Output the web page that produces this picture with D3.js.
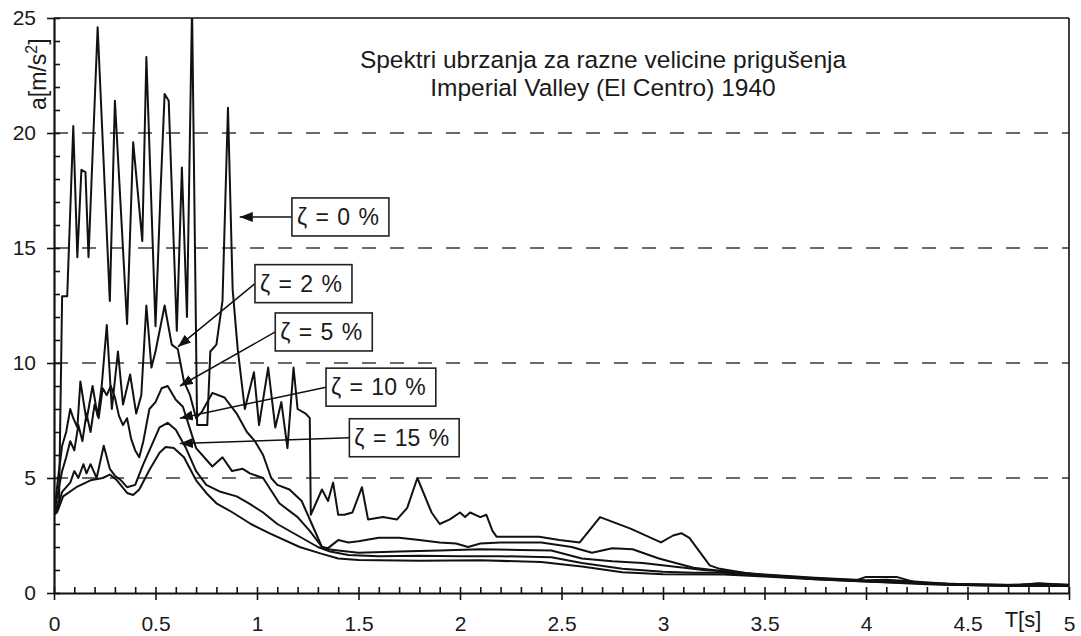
<!DOCTYPE html>
<html>
<head>
<meta charset="utf-8">
<script src="https://cdn.jsdelivr.net/npm/d3@7"></script>
<style>
body { margin: 0; background: #fff; }
text { font-family: "Liberation Sans", Arial, sans-serif; fill: #1a1a1a; }
</style>
</head>
<body>
<div id="chart"></div>
<script>
// spectra, [T in s, a in m/s2]
var zeta0 = [[0,3.4],[0.025,4.0],[0.04,12.9],[0.065,12.9],[0.095,20.3],[0.115,14.6],[0.135,18.4],[0.155,18.3],
  [0.17,14.6],[0.215,24.6],[0.275,12.7],[0.30,21.4],[0.36,11.7],[0.39,19.6],[0.435,15.3],[0.455,23.3],
  [0.50,11.6],[0.525,17.5],[0.545,21.7],[0.565,21.4],[0.605,11.4],[0.63,18.5],[0.655,12.0],[0.68,25.5],
  [0.705,7.3],[0.755,7.3],[0.77,10.5],[0.80,10.8],[0.83,12.7],[0.857,21.1],[0.88,13.2],[0.905,10.6],
  [0.94,8.0],[0.985,9.6],[1.01,7.3],[1.055,9.8],[1.09,7.2],[1.12,8.3],[1.15,6.3],[1.18,9.8],[1.20,8.0],
  [1.24,7.8],[1.26,7.6],[1.265,3.4],[1.32,4.5],[1.35,4.0],[1.375,4.8],[1.40,3.4],[1.43,3.4],[1.47,3.5],
  [1.517,4.6],[1.547,3.2],[1.62,3.3],[1.69,3.2],[1.74,3.7],[1.79,5.0],[1.86,3.5],[1.90,3.0],[1.95,3.2],
  [2.00,3.5],[2.025,3.3],[2.05,3.5],[2.10,3.3],[2.13,3.4],[2.16,2.7],[2.18,2.45],[2.39,2.45],[2.49,2.3],
  [2.59,2.2],[2.69,3.3],[2.84,2.8],[2.99,2.2],[3.05,2.5],[3.09,2.6],[3.13,2.4],[3.23,1.2],[3.28,1.05],
  [3.45,0.8],[3.70,0.65],[3.95,0.55],[4.0,0.7],[4.15,0.7],[4.25,0.45],[4.5,0.38],[4.75,0.35],[4.85,0.42],[5.0,0.35]];

var zeta2 = [[0,3.4],[0.02,5.0],[0.04,6.4],[0.06,7.0],[0.08,8.0],[0.095,7.6],[0.115,7.2],[0.13,9.2],
  [0.16,7.5],[0.19,9.0],[0.215,7.7],[0.235,9.0],[0.26,11.65],[0.285,8.0],[0.315,10.5],[0.34,8.2],
  [0.375,9.5],[0.405,7.8],[0.43,8.6],[0.455,12.5],[0.48,9.8],[0.50,10.5],[0.545,12.5],[0.58,10.8],
  [0.61,10.6],[0.64,9.2],[0.67,8.6],[0.70,7.6],[0.73,7.9],[0.78,8.7],[0.84,8.5],[0.90,7.8],[0.95,7.0],
  [0.99,6.6],[1.03,6.0],[1.07,5.0],[1.10,4.7],[1.16,4.5],[1.22,4.0],[1.27,3.0],[1.32,2.0],[1.35,1.95],
  [1.40,2.3],[1.45,2.2],[1.50,2.25],[1.60,2.4],[1.70,2.4],[1.80,2.3],[1.90,2.2],[1.98,2.15],[2.04,2.0],
  [2.10,2.15],[2.20,2.2],[2.40,2.2],[2.55,2.0],[2.65,1.75],[2.75,1.95],[2.85,1.9],[2.98,1.5],[3.15,1.1],
  [3.3,0.95],[3.5,0.8],[3.75,0.66],[4.0,0.55],[4.1,0.58],[4.2,0.52],[4.4,0.4],[4.7,0.35],[4.85,0.4],[5.0,0.36]];

var zeta5 = [[0,3.4],[0.02,4.4],[0.04,5.3],[0.06,5.9],[0.08,6.6],[0.10,6.2],[0.12,7.3],[0.14,6.6],
  [0.16,7.8],[0.18,7.0],[0.20,8.2],[0.22,7.6],[0.24,8.9],[0.26,8.6],[0.28,9.0],[0.30,8.5],[0.32,7.7],
  [0.34,7.3],[0.36,7.6],[0.38,6.7],[0.40,6.2],[0.42,5.9],[0.44,6.6],[0.47,8.0],[0.50,8.3],[0.53,8.9],
  [0.56,9.0],[0.60,8.4],[0.635,8.1],[0.70,6.3],[0.78,5.5],[0.83,5.9],[0.877,5.3],[0.93,5.4],[0.965,5.2],
  [1.03,5.0],[1.11,3.9],[1.20,3.3],[1.26,2.7],[1.32,2.0],[1.35,1.9],[1.40,1.85],[1.50,1.75],[1.70,1.8],
  [1.90,1.85],[2.10,1.9],[2.30,1.87],[2.45,1.85],[2.60,1.5],[2.75,1.38],[2.90,1.3],[3.05,1.15],[3.2,1.0],
  [3.3,0.95],[3.5,0.78],[3.75,0.63],[4.0,0.52],[4.2,0.48],[4.4,0.38],[4.7,0.33],[4.85,0.37],[5.0,0.34]];

var zeta10 = [[0,3.4],[0.015,3.6],[0.04,4.4],[0.08,4.8],[0.10,5.3],[0.12,5.0],[0.145,5.6],[0.16,5.2],
  [0.18,5.6],[0.21,5.0],[0.245,6.4],[0.275,5.4],[0.30,5.1],[0.33,4.9],[0.36,4.6],[0.40,4.7],[0.44,5.6],
  [0.47,6.2],[0.52,7.2],[0.56,7.4],[0.60,7.1],[0.65,6.3],[0.70,5.3],[0.75,4.7],[0.82,4.4],[0.90,4.2],
  [0.96,3.9],[1.03,3.5],[1.10,3.0],[1.20,2.5],[1.30,2.0],[1.36,1.8],[1.45,1.65],[1.60,1.6],[1.80,1.62],
  [2.00,1.6],[2.20,1.6],[2.45,1.55],[2.60,1.3],[2.80,1.05],[3.0,0.92],[3.15,0.88],[3.3,0.88],[3.5,0.75],
  [3.75,0.6],[4.0,0.5],[4.2,0.45],[4.4,0.36],[4.7,0.32],[5.0,0.32]];

var zeta15 = [[0,3.4],[0.015,3.5],[0.045,4.2],[0.11,4.6],[0.18,4.9],[0.24,5.0],[0.275,5.15],[0.31,4.9],
  [0.36,4.35],[0.39,4.26],[0.42,4.5],[0.47,5.35],[0.52,6.1],[0.55,6.35],[0.59,6.3],[0.64,5.9],[0.70,4.9],
  [0.75,4.35],[0.80,3.9],[0.88,3.5],[0.97,3.0],[1.06,2.6],[1.21,2.0],[1.32,1.7],[1.40,1.5],[1.50,1.43],
  [1.80,1.4],[2.10,1.42],[2.40,1.35],[2.60,1.15],[2.80,0.9],[3.0,0.82],[3.3,0.8],[3.5,0.72],[3.75,0.6],
  [4.0,0.5],[4.3,0.38],[4.7,0.3],[5.0,0.3]];

var seriesLabels = ["ζ = 0 %", "ζ = 2 %", "ζ = 5 %", "ζ = 10 %", "ζ = 15 %"];
var yTicks = [0, 5, 10, 15, 20, 25];
var xTicks = [0, 0.5, 1, 1.5, 2, 2.5, 3, 3.5, 4, 4.5, 5];
var titleLines = ["Spektri ubrzanja za razne velicine prigušenja", "Imperial Valley (El Centro) 1940"];

// label box anchor (left middle) and arrow tip, in data units
var notes = [
  {box: [1.172, 16.35], tip: [0.915, 16.35]},
  {box: [0.99, 13.45], tip: [0.61, 10.7]},
  {box: [1.09, 11.35], tip: [0.62, 9.0]},
  {box: [1.34, 8.95], tip: [0.62, 7.6]},
  {box: [1.455, 6.75], tip: [0.62, 6.5]}
];

var W = 1081, H = 636;
var margin = {top: 18, left: 54, right: 12, bottom: 43};
var width = W - margin.left - margin.right,
    height = H - margin.top - margin.bottom;

var svg = d3.select("#chart").append("svg")
  .attr("width", W).attr("height", H);

var x = d3.scaleLinear().domain([0, 5]).range([0, width]);
var y = d3.scaleLinear().domain([0, 25]).range([height, 0]);

var g = svg.append("g")
  .attr("transform", "translate(" + margin.left + "," + margin.top + ")");

svg.append("defs").append("clipPath").attr("id", "plotclip")
  .append("rect").attr("width", width).attr("height", height);

svg.select("defs").append("marker")
  .attr("id", "arrow")
  .attr("markerUnits", "userSpaceOnUse")
  .attr("markerWidth", 14).attr("markerHeight", 10)
  .attr("refX", 13).attr("refY", 5)
  .attr("orient", "auto")
  .append("path").attr("d", "M0,0L13,5L0,10Z").attr("fill", "#111");

// dashed grid
g.selectAll(".grid")
  .data(yTicks.filter(function(d) { return d > 0 && d < 25; }))
  .enter().append("line")
  .attr("x1", 0).attr("x2", width)
  .attr("y1", function(d) { return y(d); })
  .attr("y2", function(d) { return y(d); })
  .attr("stroke", "#3a3a3a").attr("stroke-width", 1.7)
  .attr("stroke-dasharray", "14,14");

// frame top/right
g.append("line").attr("x1", 0).attr("x2", width).attr("y1", 0).attr("y2", 0)
  .attr("stroke", "#111").attr("stroke-width", 1.6);
g.append("line").attr("x1", width).attr("x2", width).attr("y1", 0).attr("y2", height)
  .attr("stroke", "#111").attr("stroke-width", 1.6);

// minor ticks inside
g.append("g")
  .call(d3.axisRight(y).tickValues(d3.range(0, 26, 1)).tickSize(6).tickFormat(""))
  .call(function(a) { a.select(".domain").remove(); });
g.append("g")
  .attr("transform", "translate(0," + height + ")")
  .call(d3.axisTop(x).tickValues(d3.range(0, 51).map(function(i) { return i / 10; })).tickSize(6).tickFormat(""))
  .call(function(a) { a.select(".domain").remove(); });

var yAxis = g.append("g")
  .call(d3.axisLeft(y).tickValues(yTicks).tickSize(7).tickSizeOuter(0).tickPadding(11));
var xAxis = g.append("g")
  .attr("transform", "translate(0," + height + ")")
  .call(d3.axisBottom(x).tickValues(xTicks).tickSize(7).tickSizeOuter(0).tickPadding(16).tickFormat(d3.format("")));

[yAxis, xAxis].forEach(function(a) {
  a.select(".domain").attr("stroke", "#111").attr("stroke-width", 2.2);
  a.selectAll(".tick text").attr("font-size", 21)
    .style("font-family", "'Liberation Sans', Arial, sans-serif").attr("fill", "#1a1a1a");
});
g.selectAll(".tick line").attr("stroke", "#111").attr("stroke-width", 1.6);

// axis titles
var ylab = svg.append("text")
  .attr("transform", "translate(46,110) rotate(-90)")
  .attr("font-size", 23);
ylab.append("tspan").text("a[m/s");
ylab.append("tspan").attr("dy", -9).attr("font-size", 16).text("2");
ylab.append("tspan").attr("dy", 9).text("]");

svg.append("text")
  .attr("x", 1023).attr("y", 627)
  .attr("text-anchor", "middle").attr("font-size", 22)
  .text("T[s]");

// title
svg.selectAll(".title")
  .data(titleLines)
  .enter().append("text")
  .attr("class", "title")
  .attr("x", 603)
  .attr("y", function(d, i) { return 68 + i * 28; })
  .attr("text-anchor", "middle").attr("font-size", 24.5)
  .text(function(d) { return d; });

// curves
var line = d3.line()
  .x(function(d) { return x(d[0]); })
  .y(function(d) { return y(d[1]); });

var curves = g.append("g").attr("clip-path", "url(#plotclip)");
[zeta15, zeta10, zeta5, zeta2, zeta0].forEach(function(s) {
  curves.append("path")
    .datum(s)
    .attr("d", line)
    .attr("fill", "none")
    .attr("stroke", "#111")
    .attr("stroke-width", 2)
    .attr("stroke-linejoin", "round");
});

// labels with arrows
notes.forEach(function(n, i) {
  var bx = x(n.box[0]), by = y(n.box[1]);
  g.append("line")
    .attr("x1", bx).attr("y1", by)
    .attr("x2", x(n.tip[0])).attr("y2", y(n.tip[1]))
    .attr("stroke", "#111").attr("stroke-width", 1.5)
    .attr("marker-end", "url(#arrow)");
  var lab = g.append("g").attr("transform", "translate(" + bx + "," + by + ")");
  var rect = lab.append("rect");
  var t = lab.append("text")
    .attr("x", 5).attr("y", 0).attr("dy", "0.36em")
    .attr("font-size", 23)
    .style("word-spacing", "2px")
    .text(seriesLabels[i]);
  var bb = t.node().getBBox();
  rect.attr("x", 0).attr("y", -19)
    .attr("width", bb.width + 15).attr("height", 38)
    .attr("fill", "#fff").attr("stroke", "#222").attr("stroke-width", 1.6);
});
</script>
</body>
</html>
